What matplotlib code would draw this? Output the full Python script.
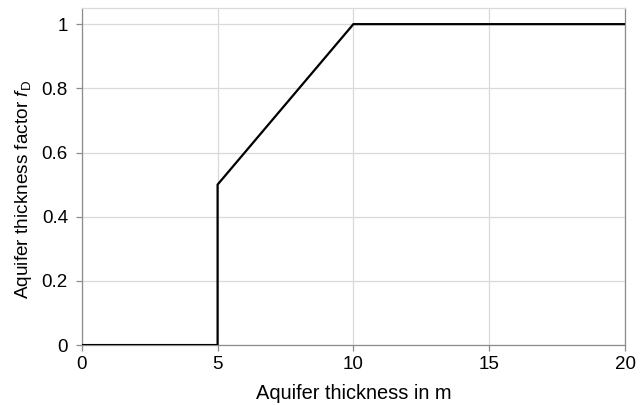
import matplotlib
matplotlib.use('Agg')
import matplotlib.pyplot as plt

# thickness in m vs. factor f_D
thickness = [0, 5, 5, 10, 20]
factor = [0, 0, 0.5, 1, 1]
x_ticks = [0, 5, 10, 15, 20]
y_ticks = [0, 0.2, 0.4, 0.6, 0.8, 1]
y_labels = ['0', '0.2', '0.4', '0.6', '0.8', '1']

plt.rcParams['font.family'] = ['Liberation Sans', 'DejaVu Sans']
plt.rcParams['mathtext.fontset'] = 'custom'
plt.rcParams['mathtext.rm'] = 'Liberation Sans'
plt.rcParams['mathtext.it'] = 'Liberation Sans:italic'

fig = plt.figure(figsize=(6.44, 4.05), dpi=100)
ax = fig.add_axes([0.127, 0.148, 0.8435, 0.832])

ax.plot(thickness, factor, color='black', lw=1.6, solid_joinstyle='miter', zorder=3)

ax.set_xlim(0, 20)
ax.set_ylim(0, 1.05)
ax.set_xticks(x_ticks)
ax.set_yticks(y_ticks)
ax.set_yticklabels(y_labels)
ax.grid(True, color='#d9d9d9', lw=0.9)
ax.set_axisbelow(True)

for side in ['left', 'bottom', 'right']:
    ax.spines[side].set_color('#8c8c8c')
    ax.spines[side].set_linewidth(0.9)
ax.spines['top'].set_color('#d9d9d9')
ax.spines['top'].set_linewidth(0.9)

ax.tick_params(axis='both', labelsize=13.5, length=4, width=0.9, colors='#8c8c8c', labelcolor='black')
ax.tick_params(axis='x', pad=4)
ax.tick_params(axis='y', pad=6)

ax.set_xlabel('Aquifer thickness in m', fontsize=14.4, labelpad=8)
ax.set_ylabel(r'Aquifer thickness factor $f_\mathrm{D}$', fontsize=13.7)
ax.yaxis.set_label_coords(-0.088, 0.461)

fig.savefig('out.png', dpi=100)
